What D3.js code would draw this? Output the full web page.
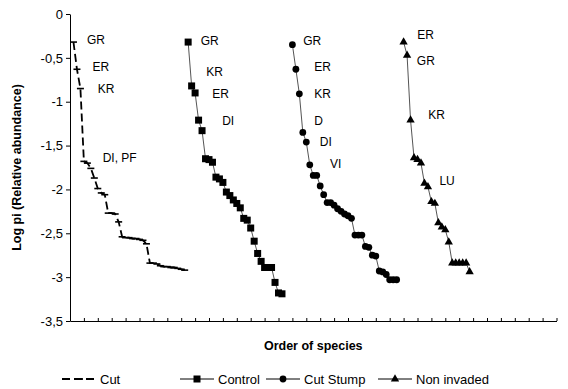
<!DOCTYPE html>
<html><head><meta charset="utf-8">
<script src="https://cdn.jsdelivr.net/npm/d3@7"></script>
<style>body{margin:0;background:#fff}svg{display:block}text{font-family:"Liberation Sans",Arial,sans-serif}</style>
</head><body><svg id="c" width="568" height="389"></svg>
<script>
// ---- data ----
const seriesNames = ["Cut", "Control", "Cut Stump", "Non invaded"];
const cutStart = 1, controlStart = 34, stumpStart = 64, nonInvStart = 96;
const cutValues = [-0.32,-0.63,-0.85,-1.68,-1.70,-1.76,-1.87,-1.99,-2.04,-2.06,-2.27,-2.27,-2.28,-2.37,-2.54,-2.55,-2.55,-2.56,-2.56,-2.57,-2.58,-2.62,-2.84,-2.84,-2.85,-2.87,-2.88,-2.88,-2.89,-2.89,-2.90,-2.91,-2.92];
const controlValues = [-0.32,-0.82,-0.90,-1.21,-1.33,-1.65,-1.66,-1.69,-1.86,-1.88,-1.92,-2.03,-2.07,-2.12,-2.16,-2.21,-2.33,-2.35,-2.44,-2.59,-2.73,-2.82,-2.89,-2.89,-2.89,-3.06,-3.18,-3.19];
const stumpValues = [-0.35,-0.63,-0.91,-1.35,-1.46,-1.72,-1.84,-1.84,-1.96,-2.06,-2.15,-2.15,-2.18,-2.22,-2.25,-2.28,-2.30,-2.33,-2.52,-2.52,-2.52,-2.65,-2.66,-2.75,-2.76,-2.93,-2.94,-2.97,-3.03,-3.03,-3.03];
const nonInvValues = [-0.32,-0.47,-1.21,-1.64,-1.66,-1.70,-1.93,-1.97,-2.14,-2.16,-2.38,-2.43,-2.46,-2.60,-2.84,-2.84,-2.84,-2.84,-2.84,-2.94];
const yTicks = [0,-0.5,-1,-1.5,-2,-2.5,-3,-3.5];
const nCategories = 140, tickEvery = 4;
// species labels: text, order position, log value
const cutLabels = [["GR",4.9,-0.34],["ER",6.5,-0.65],["KR",8.0,-0.90],["DI, PF",9.4,-1.69]];
const controlLabels = [["GR",37.6,-0.35],["KR",39.2,-0.71],["ER",40.9,-0.96],["DI",43.8,-1.27]];
const stumpLabels = [["GR",67.1,-0.35],["ER",70.3,-0.65],["KR",70.3,-0.96],["D",70.3,-1.27],["DI",71.9,-1.51],["VI",74.8,-1.76]];
const nonInvLabels = [["ER",99.9,-0.28],["GR",99.8,-0.58],["KR",103.1,-1.20],["LU",106.3,-1.95]];

// ---- chart ----
const svg = d3.select("#c");
const L = 70, R = 556.5, T = 14, B = 321;
const x = d3.scaleLinear().domain([0, nCategories]).range([L, R]);
const y = d3.scaleLinear().domain([0, -3.5]).range([T, B]);

const yAxis = d3.axisLeft(y).tickValues(yTicks).tickSize(4).tickSizeOuter(0)
  .tickFormat(v => String(v).replace(".", ","));
const gy = svg.append("g").attr("transform", `translate(${L},0)`).call(yAxis);
gy.selectAll("text").attr("font-size", 13).attr("fill", "#000").attr("x", -7);
gy.selectAll("line,path").attr("stroke", "#000");

const xTickVals = d3.range(tickEvery, nCategories + 1, tickEvery);
const xAxis = d3.axisBottom(x).tickValues(xTickVals).tickSize(-3).tickSizeOuter(0).tickFormat("");
const gx = svg.append("g").attr("transform", `translate(0,${B})`).call(xAxis);
gx.selectAll("line,path").attr("stroke", "#000");

svg.append("text").attr("transform", `translate(21,${(T+B)/2}) rotate(-90)`)
  .attr("text-anchor", "middle").attr("font-size", 12.5).attr("font-weight", "bold").text("Log pi (Relative abundance)");
svg.append("text").attr("x", (L+R)/2).attr("y", 350).attr("text-anchor", "middle")
  .attr("font-size", 12.5).attr("font-weight", "bold").text("Order of species");

const mk = (vals, start) => vals.map((v, i) => ({o: start + i, v}));
const cut = mk(cutValues, cutStart), control = mk(controlValues, controlStart),
      stump = mk(stumpValues, stumpStart), nonInv = mk(nonInvValues, nonInvStart);
const line = d3.line().x(d => x(d.o)).y(d => y(d.v));

// Cut: dashed line, dash markers
svg.append("path").attr("d", line(cut)).attr("fill", "none").attr("stroke", "#000")
  .attr("stroke-width", 1.8).attr("stroke-dasharray", "8,4");
svg.append("g").selectAll("line").data(cut).join("line")
  .attr("x1", d => x(d.o) - 3.5).attr("x2", d => x(d.o) + 3.5)
  .attr("y1", d => y(d.v)).attr("y2", d => y(d.v)).attr("stroke", "#000").attr("stroke-width", 1.6);

// others: thin grey lines
[control, stump, nonInv].forEach(s => svg.append("path").attr("d", line(s)).attr("fill", "none")
  .attr("stroke", "#555").attr("stroke-width", 1));
svg.append("g").selectAll("rect").data(control).join("rect")
  .attr("x", d => x(d.o) - 3.5).attr("y", d => y(d.v) - 3.5).attr("width", 7).attr("height", 7).attr("fill", "#000");
svg.append("g").selectAll("circle").data(stump).join("circle")
  .attr("cx", d => x(d.o)).attr("cy", d => y(d.v)).attr("r", 3.4).attr("fill", "#000");
const tri = d3.symbol().type(d3.symbolTriangle).size(30);
svg.append("g").selectAll("path").data(nonInv).join("path")
  .attr("transform", d => `translate(${x(d.o)},${y(d.v)})`).attr("d", tri).attr("fill", "#000");

// species labels
[cutLabels, controlLabels, stumpLabels, nonInvLabels].forEach(lab =>
  svg.append("g").selectAll("text").data(lab).join("text")
    .attr("x", d => x(d[1])).attr("y", d => y(d[2])).attr("font-size", 12).text(d => d[0]));

// legend
const lg = svg.append("g").attr("transform", "translate(0,379)");
const items = [{n: seriesNames[0], x0: 62}, {n: seriesNames[1], x0: 180}, {n: seriesNames[2], x0: 266}, {n: seriesNames[3], x0: 378}];
items.forEach((it, i) => {
  const g = lg.append("g").attr("transform", `translate(${it.x0},0)`);
  if (i === 0) {
    g.append("line").attr("x1", 0).attr("x2", 34).attr("y1", 0).attr("y2", 0).attr("stroke", "#000")
      .attr("stroke-width", 1.8).attr("stroke-dasharray", "8,4");
    g.append("line").attr("x1", 14).attr("x2", 21).attr("y1", 0).attr("y2", 0).attr("stroke", "#000").attr("stroke-width", 1.8);
  } else {
    g.append("line").attr("x1", 0).attr("x2", 34).attr("y1", 0).attr("y2", 0).attr("stroke", "#000").attr("stroke-width", 1);
    if (i === 1) g.append("rect").attr("x", 13.5).attr("y", -3.5).attr("width", 7).attr("height", 7);
    if (i === 2) g.append("circle").attr("cx", 17).attr("cy", 0).attr("r", 3.4);
    if (i === 3) g.append("path").attr("transform", "translate(17,0)").attr("d", tri);
  }
  g.append("text").attr("x", 38).attr("y", 4.5).attr("font-size", 13).text(it.n);
});
</script></body></html>
